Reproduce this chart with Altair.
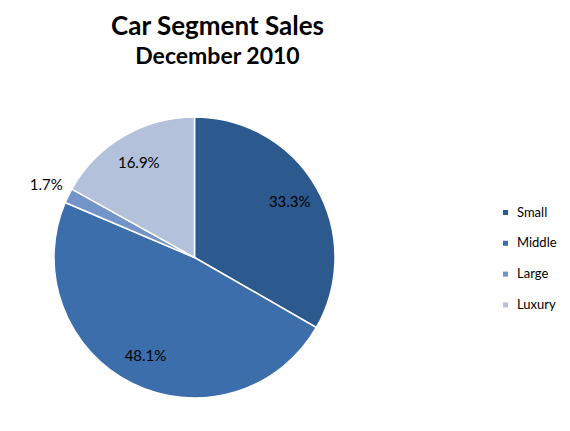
import altair as alt
import pandas as pd

segments = ["Small", "Middle", "Large", "Luxury"]
shares = [33.3, 48.1, 1.7, 16.9]
colors = ["#2C5A8F", "#3B6EAA", "#7394C8", "#B3C1DB"]

df = pd.DataFrame({
    "segment": segments,
    "share": shares,
    "idx": list(range(len(segments))),
    "label": [f"{v:.1f}%" for v in shares],
})

FONT = "Lato"

base = alt.Chart(df).encode(
    theta=alt.Theta("share:Q", stack=True),
    order=alt.Order("idx:Q"),
)

pie = base.mark_arc(outerRadius=140.5, stroke="white", strokeWidth=1.5).encode(
    color=alt.Color(
        "segment:N",
        scale=alt.Scale(domain=segments, range=colors),
        legend=alt.Legend(
            title=None,
            orient="none",
            legendX=491,
            legendY=98,
            symbolType="square",
            symbolSize=25,
            symbolStrokeWidth=0,
            labelFont=FONT,
            labelFontSize=13,
            labelColor="black",
            labelOffset=5,
            rowPadding=16.8,
        ),
    )
)

inner = base.mark_text(radius=110, font=FONT, fontSize=15, color="black").encode(
    text=alt.condition(alt.datum.share >= 5, alt.Text("label:N"), alt.value(""))
)
outer = base.mark_text(radius=165, font=FONT, fontSize=15, color="black").encode(
    text=alt.condition(alt.datum.share < 5, alt.Text("label:N"), alt.value(""))
)

chart = (
    alt.layer(pie, inner, outer)
    .properties(
        width=373,
        height=299,
        autosize="none",
        padding={"left": 0, "top": 100, "right": 181, "bottom": 16},
        title=alt.TitleParams(
            text="Car Segment Sales",
            subtitle="December 2010",
            font=FONT,
            fontSize=26,
            fontWeight="bold",
            color="black",
            subtitleFont=FONT,
            subtitleFontSize=23,
            subtitleFontWeight="bold",
            subtitleColor="black",
            subtitlePadding=6,
            anchor="middle",
            dx=23,
            offset=39,
        ),
    )
    .configure_view(stroke=None)
)

chart.save("out.html", embed_options={"renderer": "svg", "actions": False})
